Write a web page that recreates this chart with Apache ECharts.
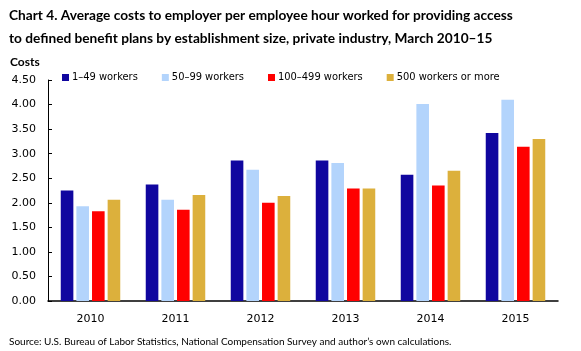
<!DOCTYPE html>
<html>
<head>
<meta charset="utf-8">
<script src="https://cdn.jsdelivr.net/npm/echarts@6/dist/echarts.min.js"></script>
<style>
  html, body { margin: 0; padding: 0; background: #fff; }
  #chart { width: 581px; height: 351px; }
</style>
</head>
<body>
<div id="chart"></div>
<script>
const years = ['2010', '2011', '2012', '2013', '2014', '2015'];
const seriesNames = ['1\u201349 workers', '50\u201399 workers', '100\u2013499 workers', '500 workers or more'];
const small = [2.25, 2.37, 2.86, 2.86, 2.57, 3.42];
const midSmall = [1.93, 2.06, 2.67, 2.81, 4.01, 4.10];
const midLarge = [1.83, 1.86, 2.00, 2.29, 2.35, 3.14];
const large = [2.06, 2.16, 2.14, 2.29, 2.65, 3.30];
const colors = ['#10069F', '#B3D4FC', '#FF0000', '#DCB03C'];

const chart = echarts.init(document.getElementById('chart'));

const values = [small, midSmall, midLarge, large];

const titleStyle = {
  fontFamily: 'Lato',
  fontWeight: 'bold',
  fontSize: 13.7,
  fill: '#000'
};

const option = {
  animation: false,
  legend: {
    data: seriesNames,
    left: 62,
    top: 72,
    padding: 0,
    itemWidth: 7,
    itemHeight: 7,
    itemGap: 24,
    icon: 'rect',
    textStyle: {
      fontFamily: 'DejaVu Sans Condensed',
      fontSize: 11,
      color: '#000',
      padding: [0, 0, 0, -2]
    }
  },
  grid: {
    left: 48,
    right: 23,
    top: 80,
    bottom: 50,
    containLabel: false
  },
  xAxis: {
    type: 'category',
    data: years,
    axisLine: { lineStyle: { color: '#000', width: 1.5 } },
    axisTick: { show: false },
    axisLabel: {
      fontFamily: 'DejaVu Sans',
      fontSize: 11,
      color: '#000',
      margin: 13
    }
  },
  yAxis: {
    type: 'value',
    name: 'Costs',
    nameLocation: 'end',
    nameGap: 12,
    nameTextStyle: {
      fontFamily: 'Lato',
      fontWeight: 'bold',
      fontSize: 12,
      color: '#000',
      align: 'left',
      padding: [0, 0, 0, -38]
    },
    min: 0,
    max: 4.5,
    interval: 0.5,
    axisLine: { show: true, lineStyle: { color: '#000', width: 1 } },
    axisTick: { show: true, inside: true, length: 4, lineStyle: { color: '#000' } },
    splitLine: { show: false },
    axisLabel: {
      fontFamily: 'DejaVu Sans',
      fontSize: 11,
      color: '#000',
      margin: 12,
      formatter: v => v.toFixed(2)
    }
  },
  series: seriesNames.map((name, i) => ({
    name: name,
    type: 'bar',
    data: values[i],
    barGap: '24%',
    barCategoryGap: '30%',
    itemStyle: { color: colors[i] }
  })),
  graphic: [
    {
      type: 'text',
      left: 9,
      top: 9,
      style: Object.assign({
        text: 'Chart 4. Average costs to employer per employee hour worked for providing access'
      }, titleStyle)
    },
    {
      type: 'text',
      left: 9,
      top: 32,
      style: Object.assign({
        text: 'to defined benefit plans by establishment size, private industry, March 2010\u201315'
      }, titleStyle)
    },
    {
      type: 'text',
      left: 9,
      top: 337,
      style: {
        text: 'Source: U.S. Bureau of Labor Statistics, National Compensation Survey and author\u2019s own calculations.',
        fontFamily: 'Lato',
        fontSize: 10,
        fill: '#000'
      }
    }
  ]
};

chart.setOption(option);
</script>
</body>
</html>
